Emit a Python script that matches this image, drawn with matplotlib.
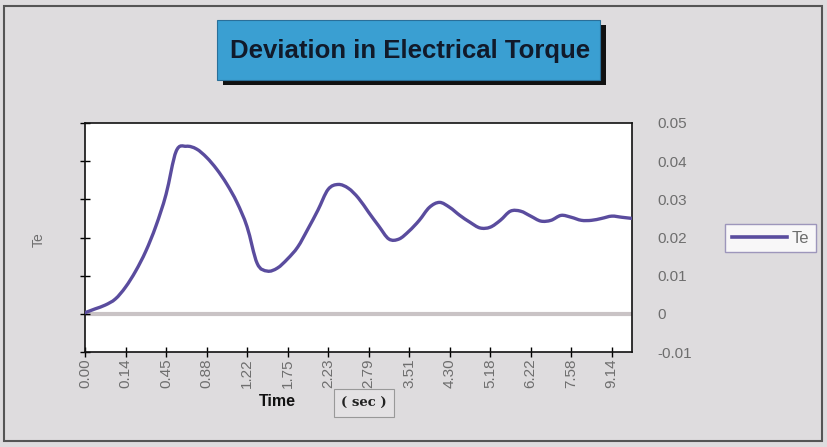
import matplotlib.pyplot as plt
from matplotlib.lines import Line2D
from matplotlib.patches import PathPatch, Rectangle
from matplotlib.path import Path

# Te deviation, one value per category step (Excel-style line chart)
te_values = [
    0.0003, 0.0013, 0.0023, 0.0039, 0.0070, 0.0112, 0.0164, 0.0230, 0.0313, 0.0426,
    0.0439, 0.0432, 0.0410, 0.0379, 0.0340, 0.0292, 0.0228, 0.0132, 0.0112, 0.0120,
    0.0144, 0.0175, 0.0222, 0.0272, 0.0326, 0.0339, 0.0329, 0.0303, 0.0266, 0.0230,
    0.0196, 0.0196, 0.0217, 0.0245, 0.0279, 0.0292, 0.0279, 0.0258, 0.0240, 0.0225,
    0.0227, 0.0245, 0.0269, 0.0269, 0.0256, 0.0243, 0.0245, 0.0258, 0.0253, 0.0245,
    0.0245, 0.0250, 0.0256, 0.0253, 0.0250,
]
time_labels = ["0.00", "0.14", "0.45", "0.88", "1.22", "1.75", "2.23",
               "2.79", "3.51", "4.30", "5.18", "6.22", "7.58", "9.14"]
label_step = 4
y_ticks = [-0.01, 0, 0.01, 0.02, 0.03, 0.04, 0.05]
y_ticklabels = ["-0.01", "0", "0.01", "0.02", "0.03", "0.04", "0.05"]

LINE_COLOR = "#5a4c9e"
GREY_TEXT = "#6e6e6e"


def smooth_path(xs, ys):
    # Excel "smoothed line": Catmull-Rom segments drawn as cubic Beziers
    n = len(xs)
    verts = [(xs[0], ys[0])]
    codes = [Path.MOVETO]
    for i in range(n - 1):
        i0, i3 = max(i - 1, 0), min(i + 2, n - 1)
        c1 = (xs[i] + (xs[i + 1] - xs[i0]) / 6, ys[i] + (ys[i + 1] - ys[i0]) / 6)
        c2 = (xs[i + 1] - (xs[i3] - xs[i]) / 6, ys[i + 1] - (ys[i3] - ys[i]) / 6)
        verts += [c1, c2, (xs[i + 1], ys[i + 1])]
        codes += [Path.CURVE4] * 3
    return Path(verts, codes)


plt.rcParams["font.family"] = ["Liberation Sans", "DejaVu Sans"]

W, H = 827, 447
fig = plt.figure(figsize=(W / 100, H / 100), dpi=100, facecolor="#dedcde")

# outer chart frame
fig.patches.append(Rectangle((4 / W, 1 - 441 / H), 818 / W, 435 / H,
                             transform=fig.transFigure, facecolor="none",
                             edgecolor="#555555", lw=1.5))

# title box with shadow
fig.patches.append(Rectangle((223 / W, 1 - 85 / H), 383 / W, 60 / H,
                             transform=fig.transFigure, facecolor="#111111", edgecolor="none"))
fig.patches.append(Rectangle((217 / W, 1 - 80 / H), 383 / W, 60 / H,
                             transform=fig.transFigure, facecolor="#3a9fd2",
                             edgecolor="#2a6f99", lw=0.8))
fig.text(410 / W, 1 - 51 / H, "Deviation in Electrical Torque", ha="center", va="center",
         fontsize=18.5, fontweight="bold", color="#111a2a")

ax = fig.add_axes([85 / W, 1 - 352 / H, 547 / W, 229 / H])
ax.set_facecolor("white")
x = list(range(len(te_values)))
ax.axhline(0, color="#c9c3c5", lw=3, zorder=1)
ax.add_patch(PathPatch(smooth_path(x, te_values), facecolor="none",
                       edgecolor=LINE_COLOR, lw=2.4, zorder=3, capstyle="round"))

ax.set_xlim(0, len(te_values) - 1)
ax.set_ylim(-0.01, 0.05)
ax.set_xticks(x[::label_step])
ax.set_xticklabels(time_labels, rotation=90, fontsize=11, color=GREY_TEXT)
ax.set_yticks(y_ticks)
ax.set_yticklabels(y_ticklabels, fontsize=11, color=GREY_TEXT)
ax.tick_params(axis="y", left=True, right=False, labelleft=False, labelright=True,
               direction="inout", length=7, width=1, pad=15)
ax.tick_params(axis="x", direction="inout", length=7, width=1, pad=1)
for s in ax.spines.values():
    s.set_color("#111111")
    s.set_linewidth(1.2)

fig.text(39 / W, 1 - 240 / H, "Te", rotation=90, ha="center", va="center",
         fontsize=10, color=GREY_TEXT)
fig.text(277 / W, 1 - 402 / H, "Time", ha="center", va="center",
         fontsize=11.5, fontweight="bold", color="#111111")
fig.text(364 / W, 1 - 403 / H, "( sec )", ha="center", va="center",
         fontsize=9.5, fontweight="bold", color="#222222", family="serif",
         bbox=dict(boxstyle="square,pad=0.55", facecolor="#e4e2e4", edgecolor="#999999", lw=0.8))

handle = Line2D([], [], color=LINE_COLOR, lw=2.6)
leg = fig.legend([handle], ["Te"], loc="center left", bbox_to_anchor=(725 / W, 1 - 238 / H),
                 frameon=True, fancybox=False, fontsize=12, handlelength=3.3,
                 handletextpad=0.3, borderpad=0.4, borderaxespad=0)
leg.get_frame().set_edgecolor("#8a82b0")
leg.get_frame().set_linewidth(1.0)
for t in leg.get_texts():
    t.set_color(GREY_TEXT)

fig.savefig("out.png", dpi=100, facecolor=fig.get_facecolor())
